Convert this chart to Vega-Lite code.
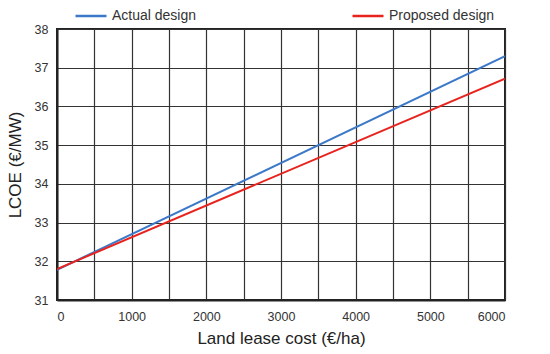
{
  "$schema": "https://vega.github.io/schema/vega-lite/v6.json",
  "autosize": {"type": "none"},
  "width": 448,
  "height": 271,
  "padding": {"left": 57, "top": 29, "right": 45, "bottom": 54},
  "background": "white",
  "config": {
    "font": "Liberation Sans",
    "view": {"stroke": "#222", "strokeWidth": 2}
  },
  "data": {
    "values": [
      {"cost": 0, "lcoe": 31.78, "design": "Actual design"},
      {"cost": 6000, "lcoe": 37.3, "design": "Actual design"},
      {"cost": 0, "lcoe": 31.8, "design": "Proposed design"},
      {"cost": 6000, "lcoe": 36.72, "design": "Proposed design"}
    ]
  },
  "mark": {"type": "line", "strokeWidth": 2, "clip": true},
  "encoding": {
    "x": {
      "field": "cost", "type": "quantitative",
      "scale": {"domain": [0, 6000], "nice": false},
      "axis": {
        "values": [0, 500, 1000, 1500, 2000, 2500, 3000, 3500, 4000, 4500, 5000, 5500, 6000],
        "labelExpr": "datum.value % 1000 == 0 ? datum.value : ''",
        "title": "Land lease cost (€/ha)",
        "titleFontSize": 17, "titleFontWeight": "normal", "titleColor": "#222",
        "titlePadding": 8,
        "labelFontSize": 12.5, "labelColor": "#333", "labelPadding": 10,
        "ticks": false, "domainColor": "#222", "domainWidth": 2,
        "gridColor": "#333", "gridWidth": 1.2, "gridOpacity": 1
      }
    },
    "y": {
      "field": "lcoe", "type": "quantitative",
      "scale": {"domain": [31, 38], "nice": false, "zero": false},
      "axis": {
        "values": [31, 32, 33, 34, 35, 36, 37, 38],
        "title": "LCOE (€/MW)",
        "titleFontSize": 17, "titleFontWeight": "normal", "titleColor": "#222",
        "titlePadding": 10,
        "labelFontSize": 12.5, "labelColor": "#333", "labelPadding": 9,
        "ticks": false, "domainColor": "#222", "domainWidth": 2,
        "gridColor": "#333", "gridWidth": 1.2, "gridOpacity": 1
      }
    },
    "color": {
      "field": "design", "type": "nominal",
      "scale": {"domain": ["Actual design", "Proposed design"], "range": ["#3b78c8", "#e8231e"]},
      "legend": {
        "title": null,
        "orient": "none",
        "direction": "horizontal",
        "legendX": 17,
        "legendY": -30,
        "symbolType": "stroke",
        "symbolSize": 961,
        "symbolStrokeWidth": 2.5,
        "labelFontSize": 14,
        "labelColor": "#333",
        "labelOffset": 4,
        "columnPadding": 150
      }
    }
  }
}
